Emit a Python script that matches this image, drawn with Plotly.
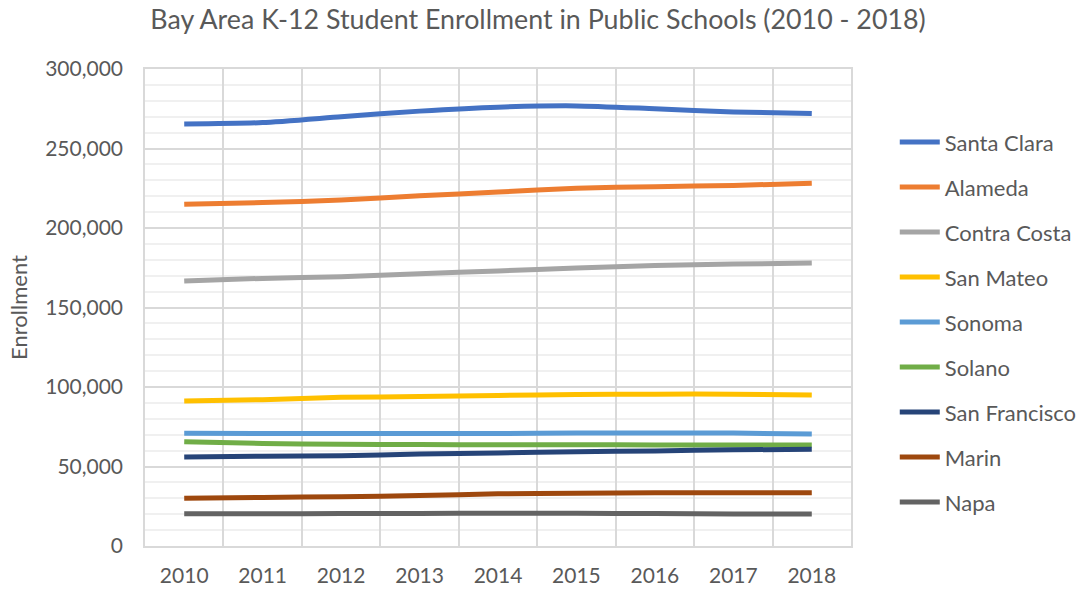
import plotly.graph_objects as go

years = ["2010", "2011", "2012", "2013", "2014", "2015", "2016", "2017", "2018"]

santa_clara = [265400, 266300, 270000, 273500, 276000, 276800, 275000, 273000, 272000]
alameda = [214900, 216000, 217600, 220300, 222600, 225000, 226000, 226800, 228100]
contra_costa = [166700, 168300, 169400, 171300, 173000, 174800, 176400, 177300, 178000]
san_mateo = [91200, 92000, 93500, 94000, 94700, 95300, 95500, 95500, 95000]
sonoma = [70900, 70800, 70700, 70700, 70800, 71000, 71100, 71000, 70400]
solano = [65600, 64500, 64000, 63800, 63700, 63700, 63600, 63600, 63500]
san_francisco = [56000, 56500, 56800, 57800, 58500, 59300, 59800, 60500, 60800]
marin = [30000, 30500, 31000, 31700, 32800, 33200, 33500, 33500, 33500]
napa = [20300, 20300, 20400, 20500, 20600, 20600, 20400, 20200, 20100]

series = [
    ("Santa Clara", santa_clara, "#4472C4"),
    ("Alameda", alameda, "#ED7D31"),
    ("Contra Costa", contra_costa, "#A5A5A5"),
    ("San Mateo", san_mateo, "#FFC000"),
    ("Sonoma", sonoma, "#5B9BD5"),
    ("Solano", solano, "#70AD47"),
    ("San Francisco", san_francisco, "#264478"),
    ("Marin", marin, "#9E480E"),
    ("Napa", napa, "#636363"),
]

FONT = "Lato, Noto Sans, sans-serif"
GREY = "#595959"

fig = go.Figure()
for i, (name, vals, color) in enumerate(series):
    fig.add_trace(go.Scatter(
        x=years, y=vals, name=name, mode="lines",
        line=dict(color=color, width=5, shape="spline", smoothing=0.6),
        legendgroup=f"g{i}",
    ))

W, H = 1085, 590
fig.update_layout(
    width=W, height=H,
    margin=dict(l=145, r=W - 851, t=69, b=H - 546, autoexpand=False),
    paper_bgcolor="white", plot_bgcolor="white",
    font=dict(family=FONT, color=GREY, size=22),
    title=dict(
        text="Bay Area K-12 Student Enrollment in Public Schools (2010 - 2018)",
        x=538 / W, xanchor="center", y=1 - 20 / H, yanchor="middle",
        font=dict(family=FONT, size=26.8, color=GREY),
    ),
    legend=dict(
        x=1.045 + 12 / 706, xanchor="left", y=0.878 + 6 / 477, yanchor="top",
        font=dict(family=FONT, size=22, color=GREY),
        tracegroupgap=13.4, bgcolor="rgba(0,0,0,0)",
        itemwidth=40,
    ),
    showlegend=True,
)

fig.update_xaxes(
    type="category", range=[-0.5, 8.5], tickson="boundaries",
    showgrid=True, gridcolor="#D9D9D9", gridwidth=1.5,
    showline=True, linecolor="#D9D9D9", linewidth=1.5, mirror=True,
    ticks="", ticklabelstandoff=10,
    tickfont=dict(family=FONT, size=21, color=GREY),
    zeroline=False,
)
fig.update_yaxes(
    range=[0, 300000], dtick=50000, tickformat=",",
    showgrid=True, gridcolor="#D9D9D9", gridwidth=1.5,
    minor=dict(dtick=10000, showgrid=True, gridcolor="#F0F0F0", gridwidth=1.5),
    showline=True, linecolor="#D9D9D9", linewidth=1.5, mirror=True,
    ticks="", ticklabelstandoff=16,
    tickfont=dict(family=FONT, size=21, color=GREY),
    title=dict(text="Enrollment", font=dict(family=FONT, size=22, color=GREY), standoff=11),
    zeroline=False,
)

fig.write_html(
    "out.html",
    config={"displayModeBar": False},
    post_script="document.body.style.margin='0';document.body.style.overflow='hidden';",
)
